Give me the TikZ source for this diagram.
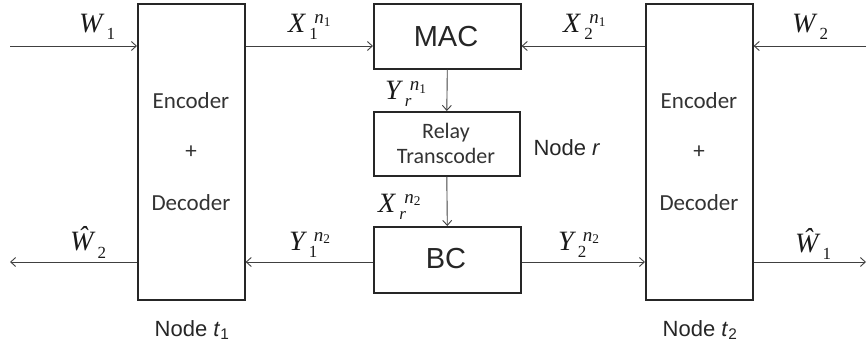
\documentclass[tikz,border=0pt]{standalone}
\usepackage{fontspec}
\setmainfont{Liberation Serif}
\newfontfamily\arialf{Liberation Sans}
\newfontfamily\calf{Carlito}
\usetikzlibrary{arrows.meta}
\newcommand{\lbl}[3]{{\itshape #1}\hspace{4pt}\rlap{\raisebox{-7pt}{\fontsize{17}{17}\selectfont #2}}\hspace{5pt}\raisebox{9pt}{\fontsize{19}{19}\selectfont #3}}
\newcommand{\nsub}[1]{\textit{n}\textsubscript{#1}}
\begin{document}
\begin{tikzpicture}[x=1pt,y=-1pt,
  box/.style={draw=black!85, line width=1.6pt, inner sep=0pt, anchor=north west},
  arr/.style={-{Straight Barb[length=5pt,width=9pt]}, line width=0.9pt, draw=black!75},
  lab/.style={font=\fontsize{28}{30}\selectfont, text=black!90, anchor=base west, inner sep=0pt},
  cal/.style={font=\calf\fontsize{23}{25}\selectfont, text=black!80},
  ar/.style={font=\arialf\fontsize{22}{24}\selectfont, text=black!85},
  big/.style={font=\arialf\fontsize{29}{31}\selectfont, text=black!85}]
\path[use as bounding box] (0,0) rectangle (868,350);
% boxes
\node[box, minimum width=107pt, minimum height=296pt] (t1) at (137,3) {};
\node[box, minimum width=107pt, minimum height=296pt] (t2) at (645,3) {};
\node[box, minimum width=147pt, minimum height=65pt] (mac) at (373,3) {};
\node[box, minimum width=146pt, minimum height=64pt] (relay) at (373,111) {};
\node[box, minimum width=147pt, minimum height=66pt] (bc) at (373,226) {};
% box texts
\node[cal] (e1) at (191,101) {Encoder};
\node[cal] (p1) at (191,152) {+};
\node[cal] (d1) at (191,203) {Decoder};
\node[cal] (e2) at (699,101) {Encoder};
\node[cal] (p2) at (699,152) {+};
\node[cal] (d2) at (699,203) {Decoder};
\node[big] (mact) at (446,37) {MAC};
\node[big] (bct) at (446,259) {BC};
\node[cal, align=center, font=\calf\fontsize{22}{25}\selectfont] (rt) at (446,143) {Relay\\Transcoder};
\node[ar, anchor=west] (nr) at (530,148) {Node \textit{r}};
\node[ar] (nt1) at (192,330) {Node \textit{t}\textsubscript{1}};
\node[ar] (nt2) at (700,330) {Node \textit{t}\textsubscript{2}};
% coordinates
\coordinate (topy) at (0,46);
\coordinate (boty) at (0,262);
\coordinate (lend) at (10,0);
\coordinate (rend) at (866,0);
% top arrows
\draw[arr] (lend |- topy) -- (t1.west |- topy);
\draw[arr] (t1.east |- topy) -- (mac.west |- topy);
\draw[arr] (t2.west |- topy) -- (mac.east |- topy);
\draw[arr] (rend |- topy) -- (t2.east |- topy);
% bottom arrows
\draw[arr] (t1.west |- boty) -- (lend |- boty);
\draw[arr] (bc.west |- boty) -- (t1.east |- boty);
\draw[arr] (bc.east |- boty) -- (t2.west |- boty);
\draw[arr] (t2.east |- boty) -- (rend |- boty);
% vertical arrows
\draw[arr] (mac.south) -- (relay.north);
\draw[arr] (relay.south) -- (bc.north);
% labels
\node[lab] (lw1) at (79,33) {\lbl{W}{1}{}};
\node[lab] (lx1) at (288,33) {\lbl{X}{1}{\nsub{1}}};
\node[lab] (lx2) at (563,33) {\lbl{X}{2}{\nsub{1}}};
\node[lab] (lw2) at (792,33) {\lbl{W}{2}{}};
\node[lab] (lyr) at (385,100) {\lbl{Y}{\textit{r}}{\nsub{1}}};
\node[lab] (lxr) at (378,212) {\lbl{X}{\textit{r}}{\nsub{2}}};
\node[lab] (lw2h) at (70,251) {\lbl{Ŵ}{2}{}};
\node[lab] (ly1) at (289,250) {\lbl{Y}{1}{\nsub{2}}};
\node[lab] (ly2) at (558,250) {\lbl{Y}{2}{\nsub{2}}};
\node[lab] (lw1h) at (795,252) {\lbl{Ŵ}{1}{}};
\end{tikzpicture}
\end{document}
